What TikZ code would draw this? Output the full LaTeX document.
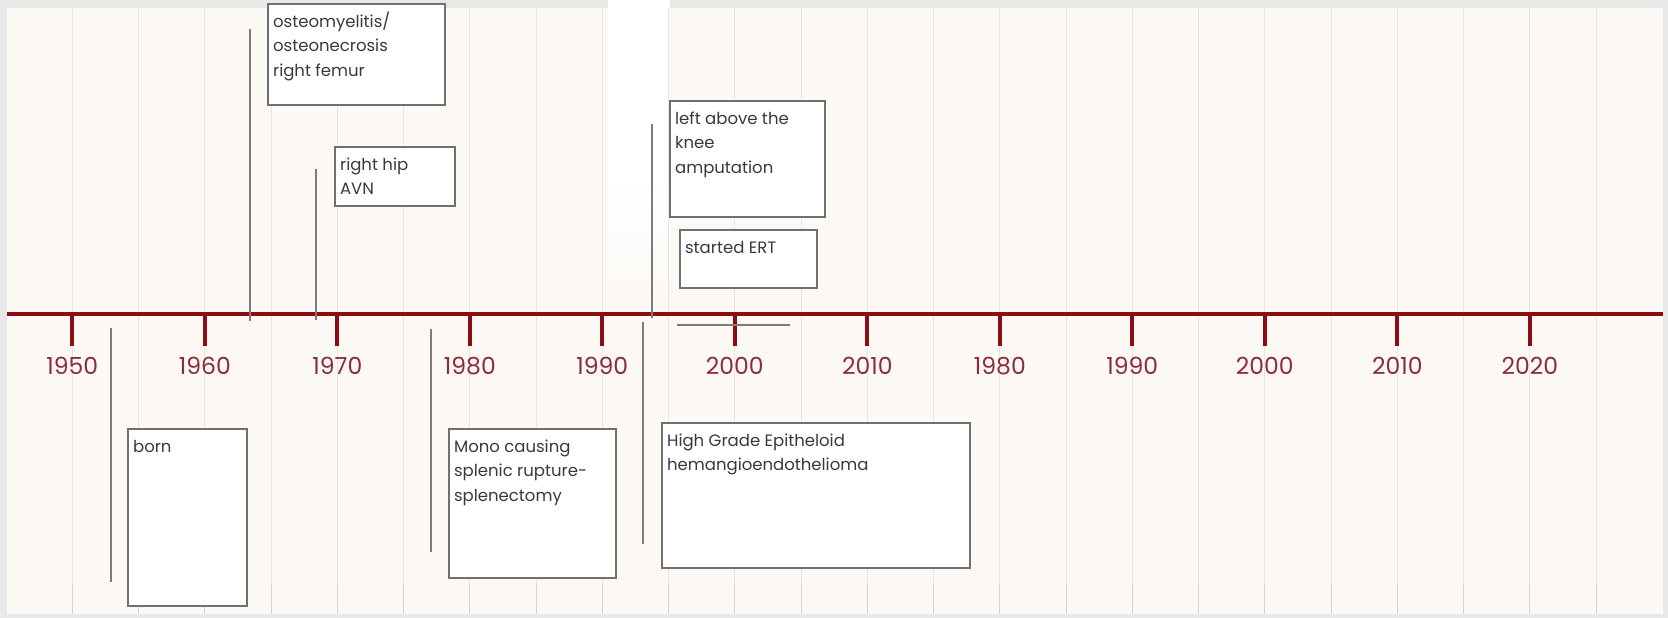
\documentclass[tikz,border=0pt]{standalone}
\usepackage{fontspec}
\setmainfont{Poppins}
\definecolor{outerbg}{HTML}{E8E8E8}
\definecolor{panelbg}{HTML}{FCF9F5}
\definecolor{gridc}{HTML}{E9E5E0}
\definecolor{gridd}{HTML}{D6D2CE}
\definecolor{axisred}{HTML}{8E0C14}
\definecolor{yearc}{HTML}{8A2E3E}
\definecolor{boxline}{HTML}{707070}
\definecolor{boxtext}{HTML}{3A3A3A}
\definecolor{connc}{HTML}{7C7C7C}
\newcommand{\evtxt}[3]{\parbox[c][#2pt][t]{#1pt}{\raggedright\rule{0pt}{18pt}#3}}
\tikzset{
  gridline/.style={gridc, line width=1.1pt},
  griddark/.style={gridd, line width=1.1pt},
  axisline/.style={axisred, line width=4.6pt},
  tickline/.style={axisred, line width=4pt},
  yearlbl/.style={text=yearc, font=\fontsize{23.5}{23.5}\selectfont, inner sep=0pt},
  evbox/.style={draw=boxline, fill=white, line width=2.2pt, anchor=north west,
    inner xsep=5pt, inner ysep=5pt, text=boxtext, font=\fontsize{16.5}{24.5}\selectfont},
  conn/.style={connc, line width=2pt}
}
\begin{document}
\begin{tikzpicture}[x=1pt,y=-1pt]
\useasboundingbox (0,0) rectangle (1668,618);
\fill[outerbg] (0,0) rectangle (1668,618);
\fill[panelbg] (7,8) rectangle (1663,614);
% white stripe at top
\fill[white] (608,0) rectangle (670,180);
\shade[top color=white, bottom color=panelbg] (608,180) rectangle (670,300);
% grid
\foreach \j in {0,...,23} {
  \draw[gridline] ({72.3+66.25*\j},8) -- ({72.3+66.25*\j},614);
  \draw[griddark] ({72.3+66.25*\j},584) -- ({72.3+66.25*\j},614);
}
% axis
\draw[axisline] (7,314) -- (1663,314);
\foreach \yr [count=\k from 0] in {1950,1960,1970,1980,1990,2000,2010,1980,1990,2000,2010,2020} {
  \draw[tickline] ({72.3+132.5*\k},314) -- ({72.3+132.5*\k},346);
  \node[yearlbl] (yr\k) at ({72.3+132.5*\k},366) {\yr};
}
% marker lines
\coordinate (l1a) at (250,29);  \coordinate (l1b) at (250,321);
\coordinate (l2a) at (316,169); \coordinate (l2b) at (316,320);
\coordinate (l3a) at (652,124); \coordinate (l3b) at (652,318);
\coordinate (l4a) at (111,328); \coordinate (l4b) at (111,582);
\coordinate (l5a) at (431,329); \coordinate (l5b) at (431,552);
\coordinate (l6a) at (643,322); \coordinate (l6b) at (643,544);
\coordinate (l7a) at (677,325); \coordinate (l7b) at (790,325);
\draw[conn] (l1a) -- (l1b);
\draw[conn] (l2a) -- (l2b);
\draw[conn] (l3a) -- (l3b);
\draw[conn] (l4a) -- (l4b);
\draw[conn] (l5a) -- (l5b);
\draw[conn] (l6a) -- (l6b);
\draw[conn] (l7a) -- (l7b);
% boxes
\node[evbox] (osteo) at (267,3) {\evtxt{167}{91}{osteomyelitis/\\osteonecrosis\\right femur}};
\node[evbox] (hip) at (334,146) {\evtxt{110}{49}{right hip\\AVN}};
\node[evbox] (knee) at (669,100) {\evtxt{145}{106}{left above the\\knee\\amputation}};
\node[evbox] (ert) at (679,229) {\evtxt{127}{48}{started ERT}};
\node[evbox] (born) at (127,428) {\evtxt{109}{167}{born}};
\node[evbox] (mono) at (448,428) {\evtxt{157}{139}{Mono causing\\splenic rupture-\\splenectomy}};
\node[evbox] (high) at (661,422) {\evtxt{298}{135}{High Grade Epitheloid\\hemangioendothelioma}};
\end{tikzpicture}
\end{document}
